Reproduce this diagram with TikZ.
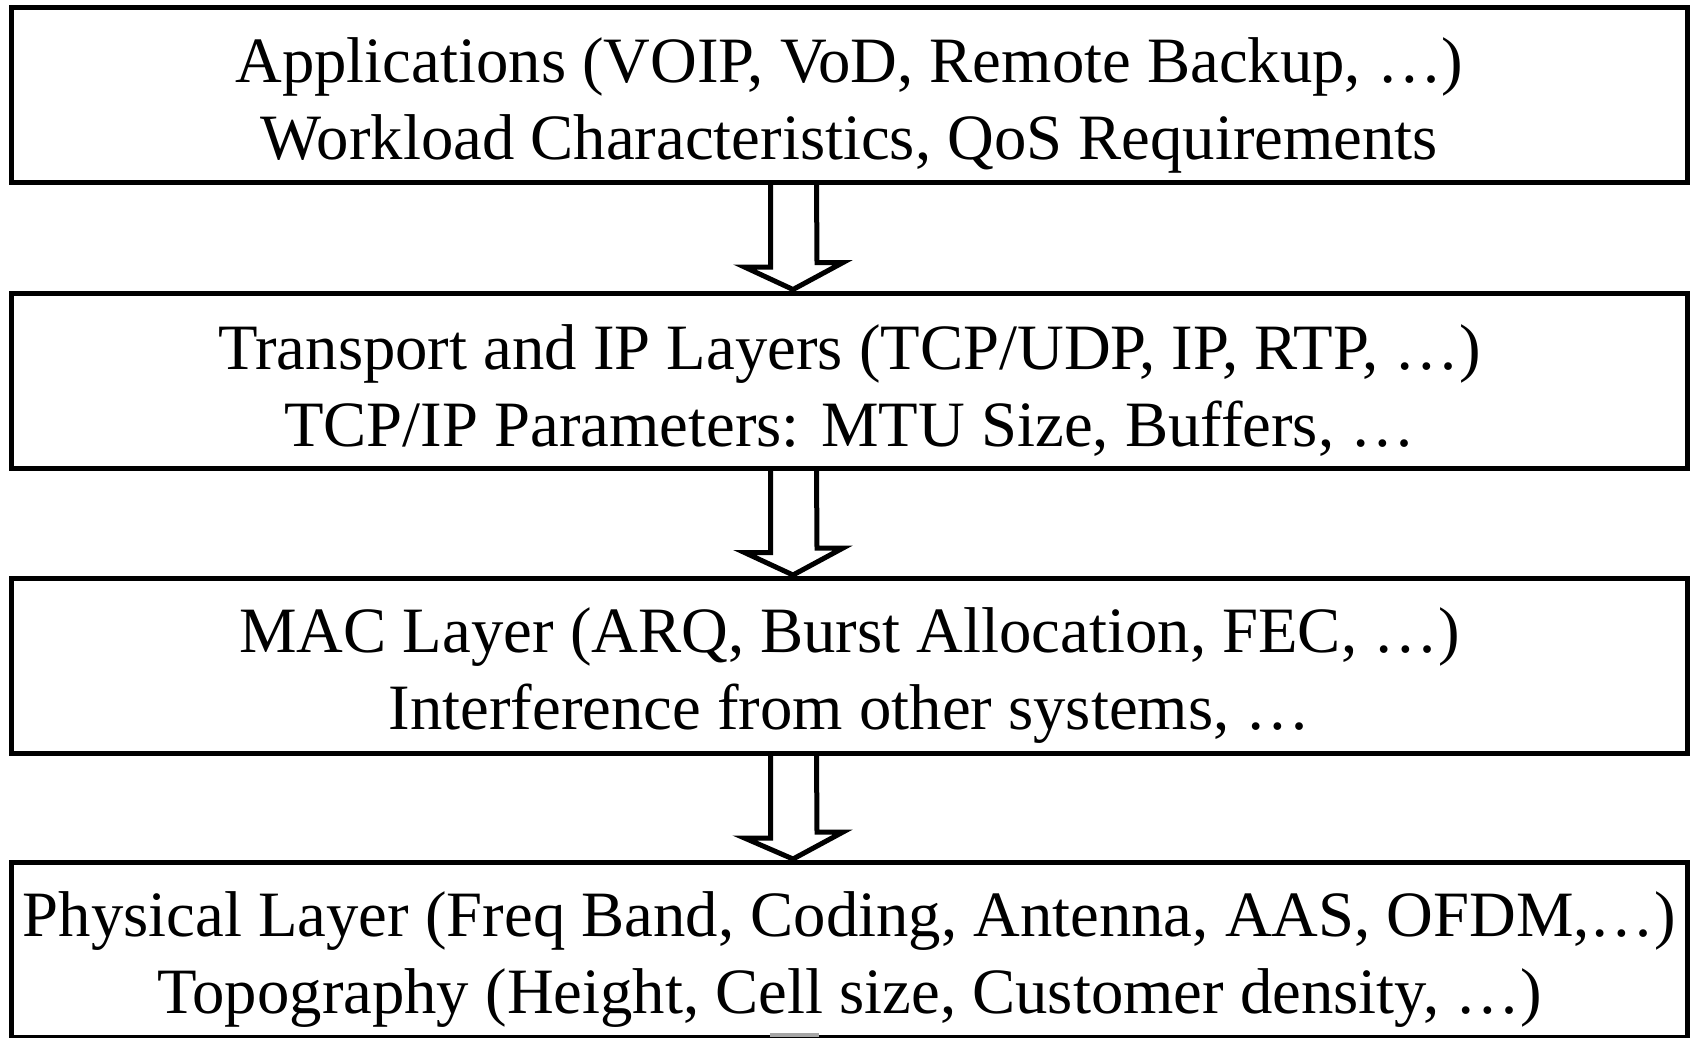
\documentclass[tikz,border=0pt]{standalone}
\usepackage{fontspec}
\setmainfont{Liberation Serif}
\usetikzlibrary{calc}
\tikzset{
  box/.style={draw=black, line width=5pt, minimum width=1676pt, minimum height=175pt,
    inner sep=0pt},
  lbl/.style={align=center, inner sep=0pt, yshift=-10pt, font=\fontsize{64.7}{77}\selectfont},
  bigarrow/.style={draw=black, line width=5pt, line join=miter},
}
\begin{document}
\begin{tikzpicture}[x=1pt,y=-1pt]
\useasboundingbox (0,0) rectangle (1690,1037);
\clip (0,0) rectangle (1690,1037);
\fill[white] (0,0) rectangle (1690,1037);
\node[box, label={[lbl]center:Applications (VOIP, VoD, Remote Backup, …)\\Workload Characteristics, QoS Requirements}] (b1) at (849.5,95) {};
\node[box, label={[lbl]center:Transport and IP Layers (TCP/UDP, IP, RTP, …)\\TCP/IP Parameters: MTU Size, Buffers, …}] (b2) at (849.5,380.5) {};
\node[box, label={[lbl]center:MAC Layer (ARQ, Burst Allocation, FEC, …)\\Interference from other systems, …}] (b3) at (849.5,666) {};
\node[box, label={[lbl]center:Physical Layer (Freq Band, Coding, Antenna, AAS, OFDM,…)\\Topography (Height, Cell size, Customer density, …)}] (b4) at (849.5,950) {};
\foreach \a/\b in {b1/b2,b2/b3,b3/b4}{
  \draw[bigarrow] ($(\a.south)+(-79,0)$) -- ++(0,82) -- ++(-26,0)
     -- ($(\b.north)+(-56.5,-1)$) -- ++(50,-27) -- ++(-26,0)
     -- ($(\a.south)+(-33,0)$);
}
\fill[gray!70] (770,1033) rectangle (819,1037);
\end{tikzpicture}
\end{document}
